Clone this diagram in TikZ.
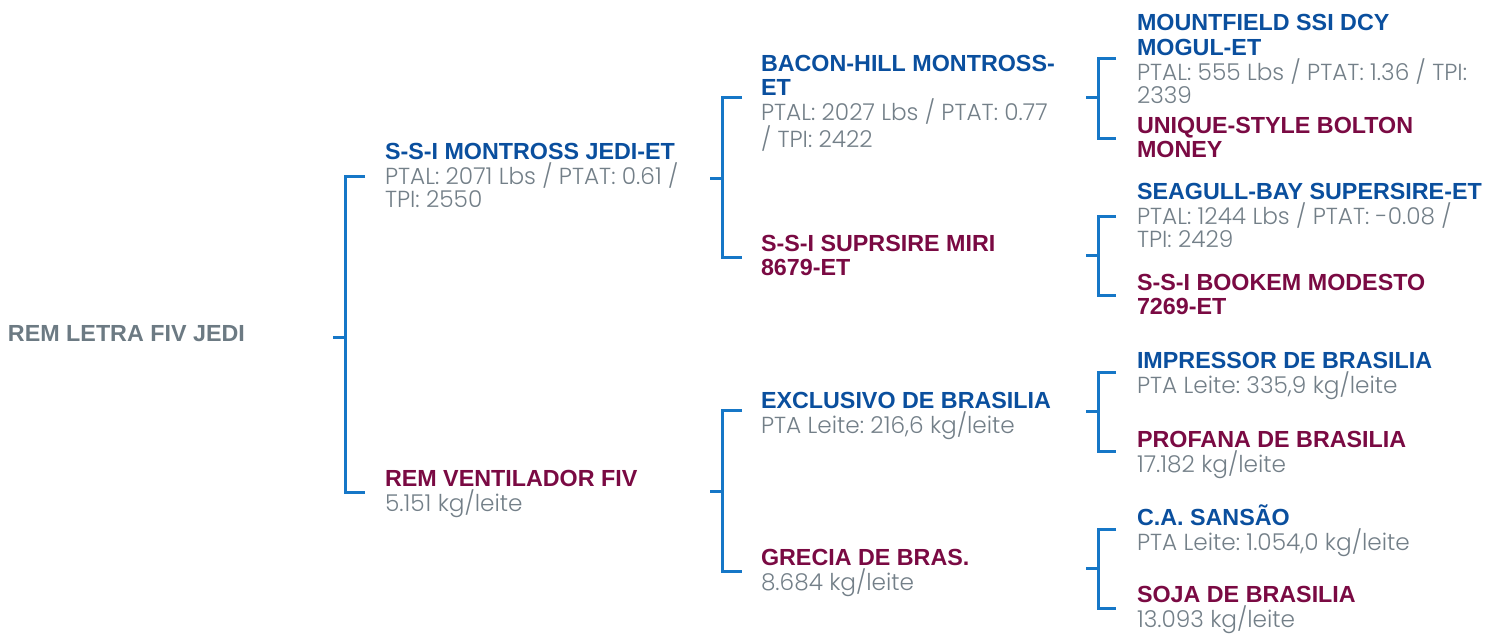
\documentclass[tikz,border=0pt]{standalone}
\usepackage{fontspec}
\setmainfont{Liberation Sans}
\newfontfamily\namefnt{Liberation Sans}
\newfontfamily\detfnt{Poppins Light}
\frenchspacing
\definecolor{nameblue}{HTML}{0A4F9E}
\definecolor{namered}{HTML}{7A0A43}
\definecolor{detailgray}{HTML}{737F88}
\definecolor{rootgray}{HTML}{6C7A83}
\definecolor{bracketblue}{HTML}{1677C7}
\newcommand\nmL[1]{\baselineskip=24.5pt\hbox{\namefnt\bfseries\fontsize{23.3}{24.5}\selectfont #1}}
\newcommand\dtF[1]{\baselineskip=25pt\hbox{\detfnt\fontsize{23.2}{23.5}\selectfont\color{detailgray}#1}}
\newcommand\dtL[1]{\baselineskip=23.5pt\hbox{\detfnt\fontsize{23.2}{23.5}\selectfont\color{detailgray}#1}}
\newcommand\bracketat[7]{%
 \coordinate (#1-s) at (#2,#7); \coordinate (#1-m) at (#3,#7);
 \coordinate (#1-t) at (#4,#5); \coordinate (#1-tc) at (#3,#5);
 \coordinate (#1-b) at (#4,#6); \coordinate (#1-bc) at (#3,#6);
 \draw[bracket] (#1-s) -- (#1-m);
 \draw[bracket] (#1-t) -- (#1-tc) -- (#1-bc) -- (#1-b);}
\tikzset{
 who/.style={anchor=base west, inner sep=0pt, outer sep=0pt},
 bluewho/.style={who, text=nameblue},
 redwho/.style={who, text=namered},
 bracket/.style={draw=bracketblue, line width=3pt, line cap=butt, line join=miter},
}
\begin{document}
\begin{tikzpicture}[x=1pt,y=-1pt]
\useasboundingbox (0,0) rectangle (1485,634);
% root
\node[who, text=rootgray, font=\namefnt\bfseries\fontsize{23.3}{26}\selectfont] (root) at (8,341) {REM LETRA FIV JEDI};
% generation 1
\node[bluewho] (sire) at (385,159) {\vtop{\nmL{S-S-I MONTROSS JEDI-ET}\dtF{PTAL: 2071 Lbs / PTAT: 0.61 /}\dtL{TPI: 2550}}};
\node[redwho] (dam) at (385,486) {\vtop{\nmL{REM VENTILADOR FIV}\dtF{5.151 kg/leite}}};
% generation 2
\node[bluewho] (ss) at (761,71) {\vtop{\nmL{BACON-HILL MONTROSS-}\nmL{ET}\dtF{PTAL: 2027 Lbs / PTAT: 0.77}\dtL{/ TPI: 2422}}};
\node[redwho] (sd) at (761,251) {\vtop{\nmL{S-S-I SUPRSIRE MIRI}\nmL{8679-ET}}};
\node[bluewho] (ds) at (761,408) {\vtop{\nmL{EXCLUSIVO DE BRASILIA}\dtF{PTA Leite: 216,6 kg/leite}}};
\node[redwho] (dd) at (761,565) {\vtop{\nmL{GRECIA DE BRAS.}\dtF{8.684 kg/leite}}};
% generation 3
\node[bluewho] (sss) at (1137,31) {\vtop{\nmL{MOUNTFIELD SSI DCY}\nmL{MOGUL-ET}\dtF{PTAL: 555 Lbs / PTAT: 1.36 / TPI:}\dtL{2339}}};
\node[redwho] (ssd) at (1137,133) {\vtop{\nmL{UNIQUE-STYLE BOLTON}\nmL{MONEY}}};
\node[bluewho] (sds) at (1137,199) {\vtop{\nmL{SEAGULL-BAY SUPERSIRE-ET}\dtF{PTAL: 1244 Lbs / PTAT: -0.08 /}\dtL{TPI: 2429}}};
\node[redwho] (sdd) at (1137,290) {\vtop{\nmL{S-S-I BOOKEM MODESTO}\nmL{7269-ET}}};
\node[bluewho] (dss) at (1137,368) {\vtop{\nmL{IMPRESSOR DE BRASILIA}\dtF{PTA Leite: 335,9 kg/leite}}};
\node[redwho] (dsd) at (1137,447) {\vtop{\nmL{PROFANA DE BRASILIA}\dtF{17.182 kg/leite}}};
\node[bluewho] (dds) at (1137,525) {\vtop{\nmL{C.A. SANSÃO}\dtF{PTA Leite: 1.054,0 kg/leite}}};
\node[redwho] (ddd) at (1137,602) {\vtop{\nmL{SOJA DE BRASILIA}\dtF{13.093 kg/leite}}};
% brackets
\bracketat{A}{333}{345}{365}{176}{492}{337}
\bracketat{B}{710}{722}{742}{97}{257}{178}
\bracketat{C}{710}{722}{742}{410}{571}{491}
\bracketat{D}{1086}{1098}{1116}{59}{138}{97}
\bracketat{E}{1086}{1098}{1116}{216}{295}{255}
\bracketat{F}{1086}{1098}{1116}{372}{451}{411}
\bracketat{G}{1086}{1098}{1116}{529}{608}{568}
\end{tikzpicture}
\end{document}
